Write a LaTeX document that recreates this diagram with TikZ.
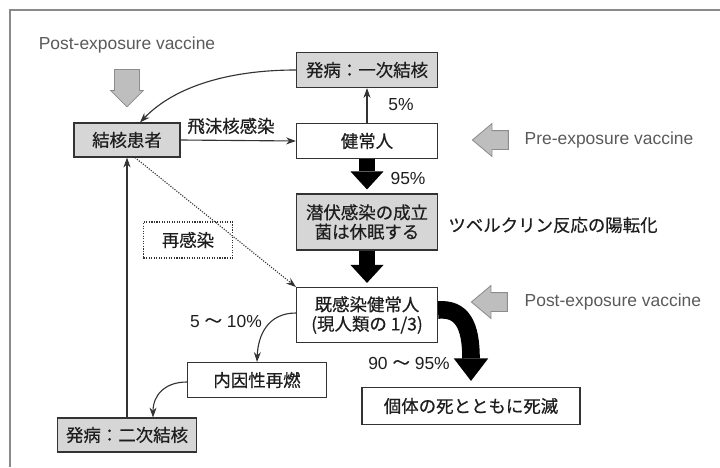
\documentclass[tikz,border=0pt]{standalone}
\usepackage{fontspec}
\setmainfont{Liberation Sans}
\newfontfamily\jp[FakeBold=0.5]{Noto Sans CJK JP}
\usetikzlibrary{arrows.meta,shapes.arrows}
\definecolor{boxgray}{HTML}{D6D6D6}
\definecolor{linedark}{HTML}{333333}
\definecolor{textdark}{HTML}{1E1E1E}
\definecolor{vacgray}{HTML}{5A5A5A}
\definecolor{vacfill}{HTML}{BEBEBE}
\definecolor{vacedge}{HTML}{8C8C8C}
\definecolor{framegray}{HTML}{8A8A8A}
\begin{document}
\begin{tikzpicture}[
    x=0.025cm, y=-0.025cm,
    >={Stealth[length=7pt,width=5pt]},
    arrow/.style={->, line width=0.8pt, draw=linedark},
    dotarrow/.style={->, densely dotted, line width=0.8pt, draw=linedark},
    fat/.style={line width=10.7pt, draw=black,
        -{Triangle[length=12.8pt,width=23.5pt,line width=0pt]}},
    fatcurve/.style={line width=12.5pt, draw=black,
        -{Triangle[length=16pt,width=24.5pt,line width=0pt]}},
    box/.style={
        draw=linedark,
        line width=0.8pt,
        fill=white,
        text=textdark,
        minimum width=3.525cm,
        minimum height=0.875cm,
        inner sep=1pt,
        align=center,
        font=\jp\fontsize{12.4}{13.8}\selectfont
    },
    graybox/.style={box, fill=boxgray},
    lbl/.style={font=\jp\fontsize{12.4}{14}\selectfont, text=textdark, inner sep=1pt},
    pct/.style={font=\fontsize{12.4}{14}\selectfont, text=textdark, inner sep=1pt},
    vaclbl/.style={font=\fontsize{12.4}{14}\selectfont, text=vacgray, inner sep=1pt},
    vacarrow/.style={
        single arrow,
        draw=vacedge,
        fill=vacfill,
        line width=0.6pt,
        inner sep=0.225cm,
        minimum height=0.9cm,
        single arrow head extend=0.175cm,
        single arrow tip angle=80
    }
]
    \useasboundingbox (0,0) rectangle (720,467);
    \draw[framegray, line width=0.8pt] (720,10) -- (10,10) -- (10,467);

    %------------------------------------------------
    % vaccines
    %------------------------------------------------
    \node[vaclbl] (postlbl) at (127,45) {Post-exposure vaccine};
    \node[vacarrow, shape border rotate=270, inner sep=0.3cm, minimum height=0.875cm,
          single arrow head extend=0.1cm, single arrow tip angle=90] (vacpost) at (127,82) {};

    \node[vacarrow, shape border rotate=180] (vacpre) at (496,140) {};
    \node[vaclbl, anchor=west] (prelbl) at (523,140) {Pre-exposure vaccine};

    \node[vacarrow, shape border rotate=180] (vacpost2) at (495,302) {};
    \node[vaclbl, anchor=west] (post2lbl) at (523,302) {Post-exposure vaccine};

    %------------------------------------------------
    % boxes
    %------------------------------------------------
    \node[graybox, minimum width=2.65cm, minimum height=0.85cm] (kanja) at (127,140) {結核患者};
    \node[graybox] (ichiji) at (367,70) {発病：一次結核};
    \node[box] (kenjo) at (367,141) {健常人};
    \node[graybox, minimum height=1.4cm] (senpuku) at (367,222) {潜伏感染の成立\\菌は休眠する};
    \node[box, minimum height=1.375cm] (kikan) at (367,315) {既感染健常人\\(現人類の 1/3)};
    \node[box, minimum width=5.45cm, minimum height=0.925cm] (shimetsu) at (471,406) {個体の死とともに死滅};
    \node[box, minimum width=3.475cm] (naiin) at (257,380) {内因性再燃};
    \node[graybox, minimum width=3.475cm, minimum height=0.85cm] (niji) at (127,435) {発病：二次結核};

    % labels
    \node[lbl] (himatsu) at (231,126) {飛沫核感染};
    \node[pct] (p5) at (401,105) {5\%};
    \node[pct] (p95) at (408,178) {95\%};
    \node[lbl] (tuber) at (553,225) {ツベルクリン反応の陽転化};
    \node[pct] (p510) at (226,321) {5\;{\jp ～}\;10\%};
    \node[pct] (p9095) at (409,363) {90\;{\jp ～}\;95\%};

    %------------------------------------------------
    % connectors
    %------------------------------------------------
    \draw[arrow] (kanja.east) -- (kenjo.west);
    \draw[arrow] (kenjo.north) -- (ichiji.south);
    \draw[arrow] (ichiji.west) .. controls (230,70) and (175,86) .. ([xshift=0.325cm]kanja.north);
    \draw[arrow] (kikan.west |- 0,313) .. controls (268,313) and (258,335) .. (naiin.north);
    \draw[arrow] (naiin.west |- 0,382) .. controls (165,382) and (153,395) .. ([xshift=0.65cm]niji.north);
    \draw[arrow] (niji.north) -- (kanja.south);

    % reinfection
    \draw[dotarrow] ([xshift=0.2cm]kanja.south) -- (kikan.north west);
    \node[box, densely dotted, fill=none, minimum width=2.225cm, minimum height=0.9cm] (saikan) at (188,240) {再感染};

    % main flow
    \draw[fat] (kenjo.south) -- ([yshift=0.1cm]senpuku.north);
    \draw[fat] (senpuku.south) -- ([yshift=0.1cm]kikan.north);
    \draw[fatcurve] ([yshift=0.125cm]kikan.east) .. controls (462,308) and (471,325) .. ([yshift=0.15cm]shimetsu.north);

\end{tikzpicture}
\end{document}
